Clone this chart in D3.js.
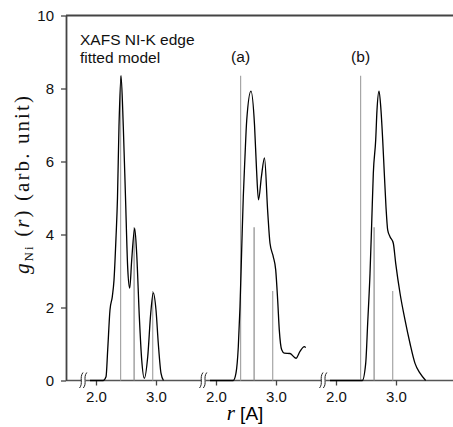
<!DOCTYPE html>
<html>
<head>
<meta charset="utf-8">
<script src="https://cdn.jsdelivr.net/npm/d3@7"></script>
<style>
	body { margin: 0; background: #fff; }
	svg { display: block; }
	.axis text { font-family: "Liberation Sans", Arial, sans-serif; font-size: 15px; fill: #111; }
	.axis line { stroke: #444; stroke-width: 1.3; }
	.note { font-family: "Liberation Sans", Arial, sans-serif; font-size: 15.5px; fill: #111; }
</style>
</head>
<body>
<div id="chart"></div>
<script>
// fitted shell positions and heights (gray sticks)
const stickR = [2.41, 2.635, 2.945];
const stickG = [8.35, 4.2, 2.45];

// left panel: XAFS Ni-K edge fitted model
const modelR = [1.9, 2.122, 2.167, 2.195, 2.233, 2.272, 2.30, 2.333, 2.358, 2.383, 2.417, 2.455, 2.492, 2.528, 2.562, 2.595, 2.645, 2.678, 2.722, 2.762, 2.805, 2.862, 2.912, 2.955, 3.0, 3.038, 3.083, 3.125];
const modelG = [0, 0, 0.1, 0.84, 1.93, 2.3, 2.75, 3.9, 5.0, 6.95, 8.35, 6.95, 5.0, 3.1, 2.53, 3.3, 4.17, 3.48, 1.75, 0.56, 0.06, 0.65, 1.84, 2.4, 1.93, 1.02, 0.2, 0];

// panel (a)
const aR = [1.9, 2.288, 2.333, 2.372, 2.40, 2.428, 2.455, 2.483, 2.512, 2.583, 2.642, 2.675, 2.708, 2.758, 2.808, 2.862, 2.90, 2.955, 2.995, 3.028, 3.055, 3.095, 3.138, 3.233, 3.333, 3.40, 3.472, 3.495];
const aG = [0, 0, 0.2, 0.93, 2.02, 3.58, 5.04, 6.13, 7.13, 7.93, 7.0, 5.8, 4.95, 5.6, 6.1, 4.62, 3.76, 3.39, 3.03, 2.2, 1.38, 0.84, 0.75, 0.74, 0.61, 0.8, 0.93, 0.9];

// panel (b)
const bR = [1.9, 2.438, 2.495, 2.528, 2.567, 2.595, 2.622, 2.662, 2.683, 2.717, 2.75, 2.778, 2.805, 2.833, 2.862, 2.90, 2.955, 2.995, 3.067, 3.15, 3.233, 3.317, 3.40, 3.495];
const bG = [0, 0, 0.47, 1.57, 2.94, 4.31, 5.68, 6.6, 7.4, 7.93, 7.4, 6.6, 5.68, 4.76, 4.12, 3.94, 3.76, 3.21, 2.39, 1.66, 1.02, 0.47, 0.2, 0];

const panelNames = ['', '(a)', '(b)'];
const xTicks = [2.0, 3.0];
const yTicks = [0, 2, 4, 6, 8, 10];
const breakR = 1.8;

const panels = [
	{ r: modelR, g: modelG },
	{ r: aR, g: aG },
	{ r: bR, g: bG }
];

const width = 453;
const height = 427;
const marginLeft = 66;
const marginTop = 15.5;
const plotBottom = 380.5;
const panelShift = 2.0;

const $svg = d3.select('#chart').append('svg')
	.attr('width', width)
	.attr('height', height);

// scales
const scaleY = d3.scaleLinear().domain([0, 10]).range([plotBottom, marginTop]);
const scaleAll = d3.scaleLinear().domain([1.5, 7.95]).range([marginLeft, width]);
const panelX = i => r => scaleAll(r + i * panelShift);

// frame: top and bottom lines
$svg.append('line')
	.attr('x1', marginLeft).attr('x2', width)
	.attr('y1', scaleY(10)).attr('y2', scaleY(10))
	.attr('stroke', '#444').attr('stroke-width', 1.8);

$svg.append('line')
	.attr('x1', marginLeft).attr('x2', width)
	.attr('y1', scaleY(0)).attr('y2', scaleY(0))
	.attr('stroke', '#555').attr('stroke-width', 1.3);

// y axis
const $yAxis = $svg.append('g')
	.attr('class', 'axis')
	.attr('transform', `translate(${marginLeft},0)`)
	.call(d3.axisLeft(scaleY).tickValues(yTicks).tickSize(5).tickSizeOuter(0).tickPadding(7).tickFormat(d3.format('d')));
$yAxis.select('.domain').attr('stroke', '#444').attr('stroke-width', 1.8);

const line = d3.line().curve(d3.curveMonotoneX);

panels.forEach((p, i) => {
	const px = panelX(i);
	const scaleP = d3.scaleLinear().domain([2, 3]).range([px(2), px(3)]);

	// x ticks per panel
	const $xAxis = $svg.append('g')
		.attr('class', 'axis')
		.attr('transform', `translate(0,${plotBottom})`)
		.call(d3.axisBottom(scaleP).tickValues(xTicks).tickSize(5).tickPadding(6).tickFormat(d3.format('.1f')));
	$xAxis.select('.domain').remove();

	// sticks
	$svg.append('g').selectAll('line')
		.data(stickR)
		.join('line')
		.attr('x1', d => px(d)).attr('x2', d => px(d))
		.attr('y1', scaleY(0))
		.attr('y2', (d, j) => scaleY(stickG[j]))
		.attr('stroke', (d, j) => j === 1 ? '#8c8c8c' : '#a6a6a6')
		.attr('stroke-width', 1.2);

	// curve
	const pts = p.r.map((r, j) => [px(r), scaleY(p.g[j])]);
	$svg.append('path')
		.attr('d', line(pts))
		.attr('fill', 'none')
		.attr('stroke', '#000')
		.attr('stroke-width', 1.3);

	// axis break
	const bx = px(breakR);
	const by = scaleY(0);
	$svg.append('rect')
		.attr('x', bx - 2.5).attr('y', by - 2)
		.attr('width', 4).attr('height', 4)
		.attr('fill', '#fff');
	[-2, 1.8].forEach(off => {
		const x0 = bx + off;
		$svg.append('path')
			.attr('d', `M${x0 - 2.5},${by + 7.5} C${x0 + 1.5},${by + 3} ${x0 - 3},${by - 3} ${x0 + 1},${by - 8}`)
			.attr('fill', 'none')
			.attr('stroke', '#222')
			.attr('stroke-width', 1);
	});

	if (panelNames[i]) {
		$svg.append('text')
			.attr('class', 'note')
			.attr('x', px(stickR[0]))
			.attr('y', 62)
			.attr('text-anchor', 'middle')
			.text(panelNames[i]);
	}
});

// notes
$svg.append('text').attr('class', 'note').attr('x', 80).attr('y', 45).text('XAFS NI-K edge');
$svg.append('text').attr('class', 'note').attr('x', 80).attr('y', 63).text('fitted model');

// x label
const $xLabel = $svg.append('text')
	.attr('x', 245)
	.attr('y', 420)
	.attr('text-anchor', 'middle');
$xLabel.append('tspan')
	.attr('font-family', '"Liberation Serif", serif')
	.attr('font-style', 'italic')
	.attr('font-size', 21)
	.text('r');
$xLabel.append('tspan')
	.attr('font-family', '"Liberation Sans", Arial, sans-serif')
	.attr('font-size', 19)
	.text(' [A]');

// y label
const $yLabel = $svg.append('text')
	.attr('transform', 'translate(29,185) rotate(-90)')
	.attr('text-anchor', 'middle')
	.attr('font-family', '"Liberation Serif", serif')
	.attr('font-size', 21)
	.attr('fill', '#111')
	.attr('textLength', 178)
	.attr('lengthAdjust', 'spacing');
$yLabel.append('tspan').attr('font-style', 'italic').text('g');
$yLabel.append('tspan').attr('font-size', 13).attr('dy', 4).text('Ni');
$yLabel.append('tspan').attr('dy', -4).text(' (');
$yLabel.append('tspan').attr('font-style', 'italic').text('r');
$yLabel.append('tspan').text(') (arb. unit)');
</script>
</body>
</html>
